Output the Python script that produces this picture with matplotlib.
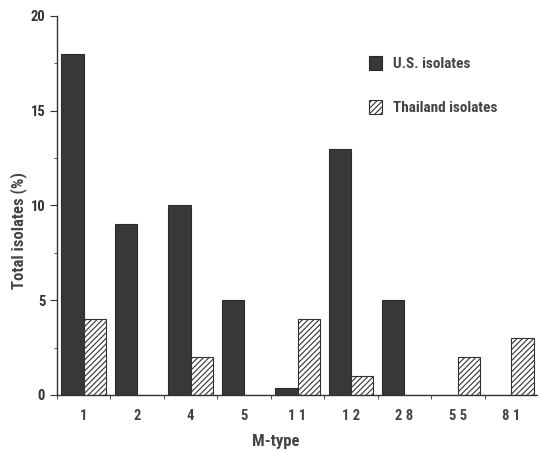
import matplotlib.pyplot as plt
import numpy as np

mtypes = ['1', '2', '4', '5', '1 1', '1 2', '2 8', '5 5', '8 1']
us = [18, 9, 10, 5, 0.35, 13, 5, 0, 0]
thai = [4, 0, 2, 0, 4, 1, 0, 2, 3]

plt.rcParams['font.family'] = ['Liberation Sans Narrow', 'Roboto Condensed', 'DejaVu Sans']
plt.rcParams['font.stretch'] = 'condensed'
plt.rcParams['font.weight'] = 'bold'
plt.rcParams['axes.labelweight'] = 'bold'
plt.rcParams['hatch.linewidth'] = 0.8
plt.rcParams['hatch.color'] = '#333333'

fig = plt.figure(figsize=(5.38, 4.54), dpi=100)
ax = fig.add_axes([0.106, 0.13, 0.894, 0.835])

x = np.arange(len(mtypes))
w = 0.42
ax.bar(x - w / 2, us, w, color='#383838', edgecolor='#2a2a2a', linewidth=0.8,
       label='U.S. isolates')
ax.bar(x + w / 2, thai, w, color='white', edgecolor='#333333', linewidth=0.8,
       hatch='//////', label='Thailand isolates')

ax.set_xlim(-0.5, len(mtypes) - 0.5)
ax.set_ylim(0, 20)
ax.set_yticks([0, 5, 10, 15, 20])
ax.set_yticks(np.arange(0, 20, 2.5), minor=True)
ax.set_xticks(x)
ax.set_xticklabels(mtypes, fontsize=10.5, color='#444444')
ax.set_xticks(np.arange(-0.5, len(mtypes), 1), minor=True)
ax.tick_params(axis='x', which='major', length=0, pad=10)
ax.tick_params(axis='x', which='minor', length=3, direction='out', color='#333333')
ax.tick_params(axis='y', which='major', length=5, labelsize=10.5, colors='#333333')
ax.tick_params(axis='y', which='minor', length=2.5, color='#333333')

for s in ['top', 'right']:
    ax.spines[s].set_visible(False)
for s in ['left', 'bottom']:
    ax.spines[s].set_color('#333333')
    ax.spines[s].set_linewidth(1.0)

ax.set_xlabel('M-type', fontsize=12, color='#444444')
ax.xaxis.set_label_coords(0.455, -0.103)
ax.set_ylabel('Total isolates (%)', fontsize=12, color='#444444')
ax.yaxis.set_label_coords(-0.062, 0.433)

leg = ax.legend(loc='upper left', bbox_to_anchor=(0.62, 0.93), frameon=False,
                fontsize=11, handlelength=0.85, handleheight=1.0,
                labelspacing=1.9, handletextpad=0.7)
for t in leg.get_texts():
    t.set_color('#444444')

fig.savefig('out.png', dpi=100)
